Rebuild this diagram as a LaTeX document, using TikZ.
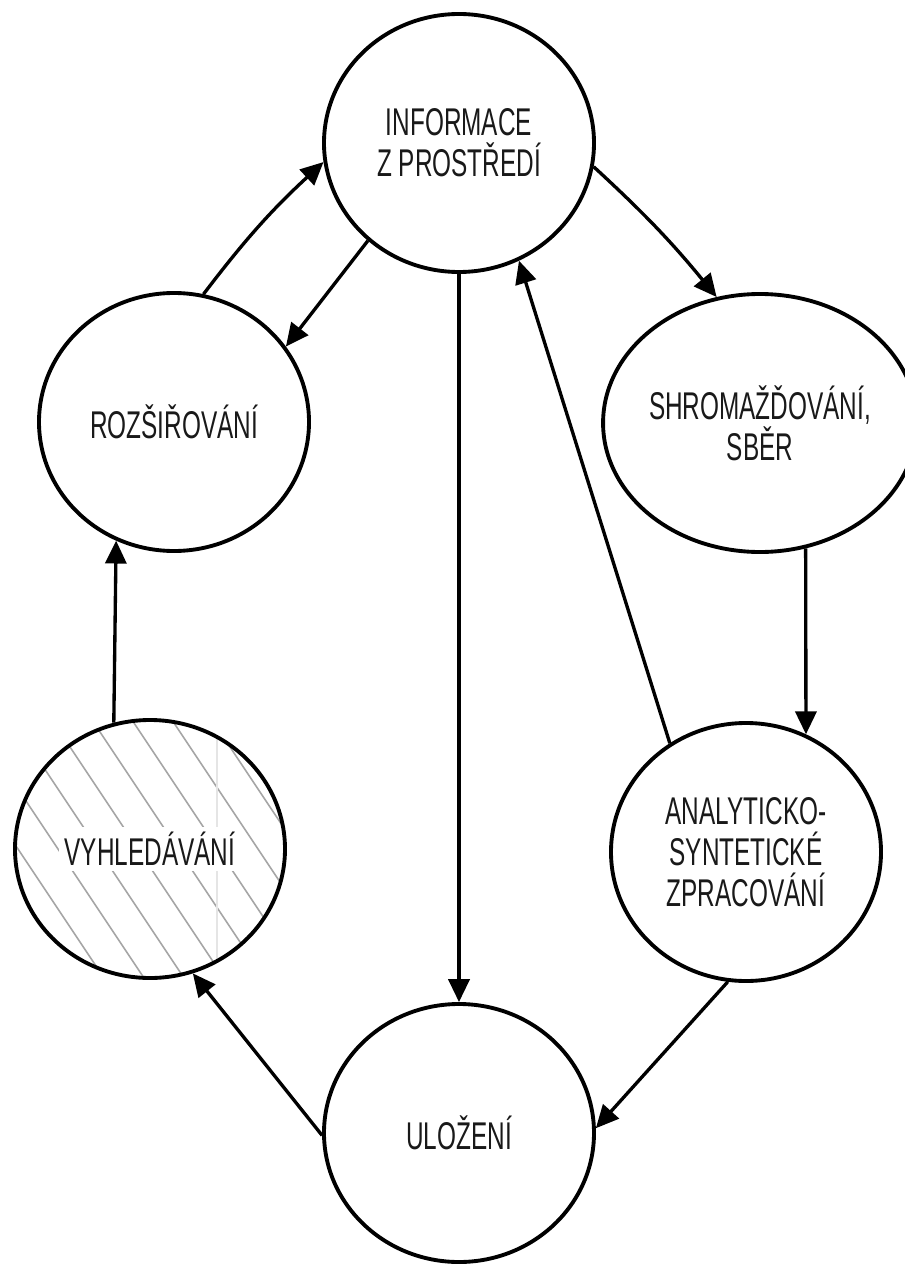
\documentclass[tikz,border=0pt]{standalone}
\usepackage{fontspec}
\newfontfamily\condsans[FakeStretch=0.63]{Liberation Sans}
\usetikzlibrary{shapes.geometric}
\usetikzlibrary{arrows.meta}

\begin{document}
\begin{tikzpicture}[x = 0.2mm, y = -0.2mm]
	\tikzset{cycleStyle/.style = {shape = ellipse, draw, line width = 2.2pt, minimum width = 5.4cm, minimum height = 5.16cm, inner sep = 0pt, align = center, text = black!90, font = \condsans\fontsize{22}{23.5}\selectfont}}
	\tikzset{hatchStyle/.style = {path picture = {
		\foreach \k in {-9,...,8}
			\draw[gray!70, line width = 0.9pt] ([xshift = \k*0.8cm - 0.24cm]path picture bounding box.center) ++(-3.6cm,5.4cm) -- ++(7.2cm,-10.8cm);
		\draw[gray!20, line width = 1.2pt] ([xshift = 1.34cm]path picture bounding box.north) -- ([xshift = 1.34cm]path picture bounding box.south);
	}}}
	\tikzset{arcStyle/.style = {line width = 1.9pt, -{Triangle[length = 13pt, width = 12pt]}}}
	\useasboundingbox (0,0) rectangle (905,1269);
	\node[cycleStyle] (info) at (459,143) {INFORMACE\\Z PROSTŘEDÍ};
	\node[cycleStyle] (roz) at (174,422) {ROZŠIŘOVÁNÍ};
	\node[cycleStyle] (shrom) at (760,423) {SHROMAŽĎOVÁNÍ,\\SBĚR};
	\node[cycleStyle, hatchStyle] (vyhl) at (150,849) {\colorbox{white}{VYHLEDÁVÁNÍ}};
	\node[cycleStyle] (anal) at (746,852) {ANALYTICKO-\\SYNTETICKÉ\\ZPRACOVÁNÍ};
	\node[cycleStyle] (ulo) at (459,1133) {ULOŽENÍ};
	\draw[arcStyle] (roz.77) to[bend left = 5] (info.188);
	\draw[arcStyle] (info.227) -- (roz.34);
	\draw[arcStyle] (info.-10) to[bend left = 4] (shrom.109);
	\draw[arcStyle] (info.south) -- (ulo.north);
	\draw[arcStyle] (shrom.290) -- (anal.63);
	\draw[arcStyle] (anal.125) -- (info.297);
	\draw[arcStyle] (anal.262) -- (ulo.2);
	\draw[arcStyle] (ulo.181) -- (vyhl.289);
	\draw[arcStyle] (vyhl.106) -- (roz.244);
\end{tikzpicture}
\end{document}
